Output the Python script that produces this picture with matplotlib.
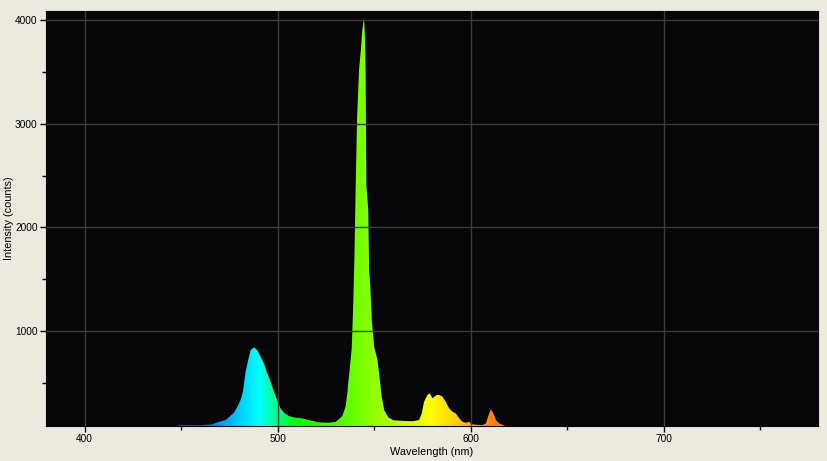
import numpy as np
import matplotlib
matplotlib.use('Agg')
import matplotlib.pyplot as plt
from matplotlib.ticker import MultipleLocator

# spectrum (wavelength nm, intensity counts)
wavelength = [448, 449, 455, 460, 466, 469.5, 473, 474.7, 477.3, 479, 480.8, 482,
              483.4, 484.6, 486, 487.7, 489.4, 491.2, 492.9, 494.6, 496.4, 498.1,
              499.8, 501.5, 503.3, 505.9, 509.3, 512.8, 516.2, 521.4, 526.6, 530,
              531.8, 533.5, 535.2, 536.1, 537.3, 538.4, 539.1, 539.8, 540.5, 541.2,
              542.2, 543.2, 543.9, 544.8, 545.3, 545.6, 546.0, 547.0, 547.4, 548.0,
              548.8, 550, 551.6, 552.6, 553.9, 555.2, 557.4, 560, 565, 570, 573.3,
              574.7, 575.9, 577.6, 578.9, 580.2, 581.6, 582.8, 584, 585.4, 587.1,
              588.9, 590.6, 592.3, 594.1, 595.8, 597.6, 599.3, 600.2, 602.8, 606.2,
              608, 609.3, 610.5, 611.7, 613.1, 614.8, 616.9, 618]
counts = [84, 97, 95, 92, 100, 123, 141, 167, 212, 264, 334, 414,
          607, 704, 817, 843, 817, 752, 688, 592, 511, 414,
          334, 254, 212, 180, 164, 158, 141, 119, 116, 123,
          150, 180, 270, 399, 624, 833, 1203, 1701, 2440, 3067,
          3518, 3727, 3904, 4026, 3807, 3500, 2400, 2167, 1588, 1450,
          1106, 849, 736, 592, 367, 238, 167, 140, 133, 130, 141,
          206, 318, 383, 399, 351, 373, 383, 383, 367, 318,
          254, 222, 206, 158, 125, 115, 125, 103, 96, 93,
          110, 190, 245, 212, 141, 110, 93, 84]

x_ticks = [400, 500, 600, 700]
y_ticks = [1000, 2000, 3000, 4000]


def wl_to_rgb(w):
    # rough visible spectrum colours
    if w < 440:
        r, g, b = -(w - 440) / 60, 0.0, 1.0
    elif w < 490:
        r, g, b = 0.0, (w - 440) / 50, 1.0
    elif w < 510:
        r, g, b = 0.0, 1.0, -(w - 510) / 20
    elif w < 580:
        r, g, b = (w - 510) / 70, 1.0, 0.0
    elif w < 645:
        r, g, b = 1.0, -(w - 645) / 65, 0.0
    else:
        r, g, b = 1.0, 0.0, 0.0
    return [min(max(r, 0), 1), min(max(g, 0), 1), min(max(b, 0), 1)]


plt.rcParams['font.family'] = ['Liberation Sans', 'DejaVu Sans']

fig = plt.figure(figsize=(8.28, 4.61), dpi=100, facecolor='#ece9de')
ax = fig.add_axes([46 / 828, 1 - 426 / 461, 772 / 828, 415 / 461])
ax.set_facecolor('#060508')

x0, x1 = 380, 780
y0, y1 = 84, 4087

# colour gradient clipped to the spectrum outline
grid_wl = np.linspace(x0, x1, 800)
grad = np.array([[wl_to_rgb(w) for w in grid_wl]])
im = ax.imshow(grad, extent=[x0, x1, y0, y1], aspect='auto', origin='lower',
               interpolation='bilinear', zorder=1)
poly = ax.fill_between(wavelength, counts, 0, facecolor='none', edgecolor='none')
im.set_clip_path(poly.get_paths()[0], transform=ax.transData)

ax.set_xlim(x0, x1)
ax.set_ylim(y0, y1)
ax.set_xticks(x_ticks)
ax.set_yticks(y_ticks)
ax.xaxis.set_minor_locator(MultipleLocator(50))
ax.yaxis.set_minor_locator(MultipleLocator(500))
ax.set_axisbelow(False)
ax.grid(True, which='major', color='#3c3c3c', lw=1)

ax.tick_params(which='both', direction='out', colors='black', labelsize=7.3,
               length=4, width=1, pad=2)
ax.tick_params(which='minor', length=3)
for s in ax.spines.values():
    s.set_color('#060508')

ax.set_xlabel('Wavelength (nm)', fontsize=7.8, labelpad=2)
ax.set_ylabel('Intensity (counts)', fontsize=7.8, labelpad=1)

fig.savefig('out.png', dpi=100, facecolor=fig.get_facecolor())
